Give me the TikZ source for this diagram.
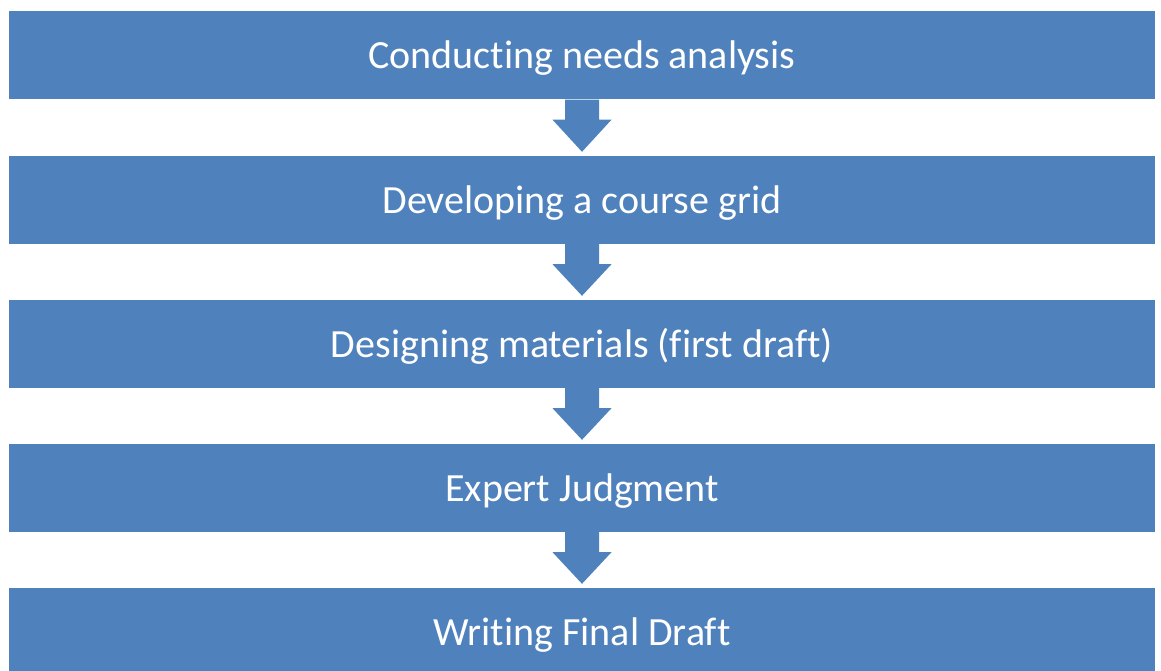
\documentclass[tikz,border=0pt]{standalone}
\usepackage{fontspec}
\setmainfont{Carlito}[Ligatures={NoCommon}]
\usetikzlibrary{calc}
\definecolor{stageblue}{HTML}{4F81BD}

\begin{document}
\begin{tikzpicture}[x=1pt, y=-1pt,
  stagebox/.style={rectangle, fill=stageblue, minimum width=1146pt, minimum height=88pt, inner sep=0pt,
    text height=33pt, text depth=6pt, text=white, font=\fontsize{40}{48}\selectfont},
  downarr/.style={fill=stageblue}
]
  \useasboundingbox (0,0) rectangle (1161,671);
  \node[stagebox] (needs) at (582,55.5) {Conducting needs analysis};
  \node[stagebox] (grid) at (582,200) {Developing a course grid};
  \node[stagebox] (design) at (582,344) {Designing materials (first draft)};
  \node[stagebox] (expert) at (582,488) {Expert Judgment};
  \node[stagebox] (final) at (582,632) {Writing Final Draft};
  % block arrows between the stages
  \foreach \a/\b in {needs/grid, grid/design, design/expert, expert/final} {
    \fill[downarr] ($(\a.south)+(-17,0)$) -- ($(\a.south)+(-17,20)$) -- ($(\a.south)+(-29.5,20)$)
      -- ($(\b.north)+(0,-4)$) -- ($(\a.south)+(29.5,20)$) -- ($(\a.south)+(17,20)$)
      -- ($(\a.south)+(17,0)$) -- cycle;
  }
\end{tikzpicture}
\end{document}
